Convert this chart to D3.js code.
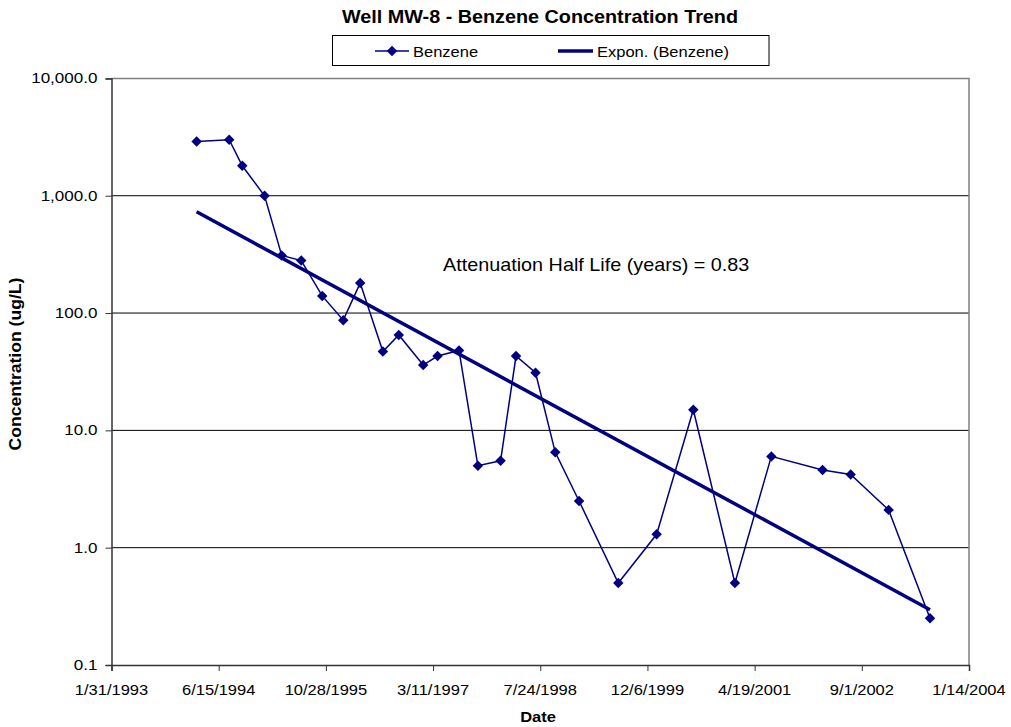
<!DOCTYPE html>
<html>
<head>
<meta charset="utf-8">
<script src="https://cdn.jsdelivr.net/npm/d3@7"></script>
<style>
  body { margin: 0; background: #fff; }
  text { font-family: "Liberation Sans", Arial, sans-serif; fill: #000; }
</style>
</head>
<body>
<script>
'use strict';

// sample dates and benzene results (ug/L)
var sampleDates = [
  "1994-03-04", "1994-08-03", "1994-10-03", "1995-01-15", "1995-04-05",
  "1995-07-05", "1995-10-11", "1996-01-17", "1996-04-05", "1996-07-20",
  "1996-10-02", "1997-01-24", "1997-04-01", "1997-07-10", "1997-10-06",
  "1998-01-20", "1998-04-02", "1998-07-02", "1998-10-02", "1999-01-21",
  "1999-07-23", "2000-01-18", "2000-07-07", "2001-01-17", "2001-07-06",
  "2002-03-02", "2002-07-11", "2003-01-04", "2003-07-16"
];
var benzene = [
  2900, 3000, 1800, 1000, 310,
  280, 140, 87, 180, 47,
  65, 36, 43, 48, 5.0,
  5.5, 43, 31, 6.5, 2.5,
  0.5, 1.3, 15, 0.5, 6.0,
  4.6, 4.2, 2.1, 0.25
];
var xTickLabels = ["1/31/1993", "6/15/1994", "10/28/1995", "3/11/1997", "7/24/1998",
                   "12/6/1999", "4/19/2001", "9/1/2002", "1/14/2004"];
var yTickValues = [0.1, 1, 10, 100, 1000, 10000];

var width = 1011,
    height = 727,
    plotL = 111.5,
    plotR = 969,
    plotT = 78.4,
    plotB = 665,
    navy = "#000080",
    stretch = 1.1;

var parse = d3.utcParse("%Y-%m-%d"),
    tickParse = d3.utcParse("%-m/%-d/%Y");

var data = sampleDates.map(function(d, i) {
  return {date: parse(d), value: benzene[i]};
});
var tickDates = xTickLabels.map(function(d) { return tickParse(d); });

var x = d3.scaleUtc()
  .domain([tickDates[0], tickDates[tickDates.length - 1]])
  .range([plotL, plotR]);

var y = d3.scaleLog()
  .domain([0.1, 10000])
  .range([plotB, plotT]);

var svg = d3.select("body").append("svg")
  .attr("width", width)
  .attr("height", height);

// text helper, the original fonts are a little wide
function label(g, px, py, str, size, weight, anchor, rot) {
  return g.append("text")
    .attr("transform", "translate(" + px + "," + py + ")" + (rot ? " rotate(" + rot + ")" : "") + " scale(" + stretch + ",1)")
    .attr("font-size", size)
    .attr("font-weight", weight || "normal")
    .attr("text-anchor", anchor || "start")
    .text(str);
}

// gridlines
svg.append("g")
  .selectAll("line")
  .data(yTickValues.slice(1, -1))
  .enter().append("line")
  .attr("x1", plotL).attr("x2", plotR)
  .attr("y1", function(d) { return y(d); })
  .attr("y2", function(d) { return y(d); })
  .attr("stroke", "#000")
  .attr("stroke-width", 1);

// plot border top/right
svg.append("path")
  .attr("d", "M" + plotL + "," + plotT + "H" + plotR + "V" + plotB)
  .attr("fill", "none")
  .attr("stroke", "#808080")
  .attr("stroke-width", 1.5);

// axes
var yAxis = d3.axisLeft(y)
  .tickValues(yTickValues)
  .tickSize(6)
  .tickFormat("");
var xAxis = d3.axisBottom(x)
  .tickValues(tickDates)
  .tickSize(6)
  .tickFormat("");

var gy = svg.append("g")
  .attr("transform", "translate(" + plotL + ",0)")
  .call(yAxis);
var gx = svg.append("g")
  .attr("transform", "translate(0," + plotB + ")")
  .call(xAxis);
[gx, gy].forEach(function(g) {
  g.select(".domain").attr("stroke", "#333").attr("stroke-width", 1.5);
  g.selectAll(".tick line").attr("stroke", "#333");
});

var fmt = d3.format(",.1f");
yTickValues.forEach(function(v) {
  label(svg, plotL - 14, y(v) + 5, fmt(v), 15.5, "normal", "end");
});
xTickLabels.forEach(function(s, i) {
  label(svg, x(tickDates[i]), 695, s, 15, "normal", "middle");
});

// exponential trend (least squares on ln values)
var t0 = data[0].date.getTime(),
    dayMs = 864e5;
var xs = data.map(function(d) { return (d.date.getTime() - t0) / dayMs; }),
    ls = data.map(function(d) { return Math.log(d.value); });
var mx = d3.mean(xs), ml = d3.mean(ls);
var slope = d3.sum(xs, function(v, i) { return (v - mx) * (ls[i] - ml); }) /
            d3.sum(xs, function(v) { return (v - mx) * (v - mx); });
var icpt = ml - slope * mx;
var trendPts = [xs[0], xs[xs.length - 1]].map(function(v) {
  return {date: new Date(t0 + v * dayMs), value: Math.exp(icpt + slope * v)};
});

var line = d3.line()
  .x(function(d) { return x(d.date); })
  .y(function(d) { return y(d.value); });

svg.append("path")
  .datum(data)
  .attr("d", line)
  .attr("fill", "none")
  .attr("stroke", navy)
  .attr("stroke-width", 1.5);

var diamond = d3.symbol().type(d3.symbolDiamond2).size(70);
svg.append("g")
  .selectAll("path")
  .data(data)
  .enter().append("path")
  .attr("transform", function(d) { return "translate(" + x(d.date) + "," + y(d.value) + ")"; })
  .attr("d", diamond)
  .attr("fill", navy);

svg.append("path")
  .datum(trendPts)
  .attr("d", line)
  .attr("fill", "none")
  .attr("stroke", navy)
  .attr("stroke-width", 3.5);

// half life annotation
var halfLife = Math.log(2) / (-slope * 365.25);
label(svg, 443, 271, "Attenuation Half Life (years) = " + halfLife.toFixed(2), 18);

// titles
label(svg, 540, 23, "Well MW-8 - Benzene Concentration Trend", 18, "bold", "middle");
label(svg, 538, 722, "Date", 15, "bold", "middle");
label(svg, 21, 364, "Concentration (ug/L)", 16, "bold", "middle", -90);

// legend
var lg = svg.append("g");
lg.append("rect")
  .attr("x", 332.5).attr("y", 35.5)
  .attr("width", 436.5).attr("height", 30)
  .attr("fill", "#fff")
  .attr("stroke", "#000")
  .attr("stroke-width", 1);
lg.append("line")
  .attr("x1", 375).attr("x2", 409).attr("y1", 51).attr("y2", 51)
  .attr("stroke", navy).attr("stroke-width", 1.5);
lg.append("path")
  .attr("transform", "translate(392,51)")
  .attr("d", diamond)
  .attr("fill", navy);
label(lg, 413, 57, "Benzene", 15);
lg.append("line")
  .attr("x1", 558).attr("x2", 593).attr("y1", 51).attr("y2", 51)
  .attr("stroke", navy).attr("stroke-width", 3.5);
label(lg, 597, 57, "Expon. (Benzene)", 15);
</script>
</body>
</html>
